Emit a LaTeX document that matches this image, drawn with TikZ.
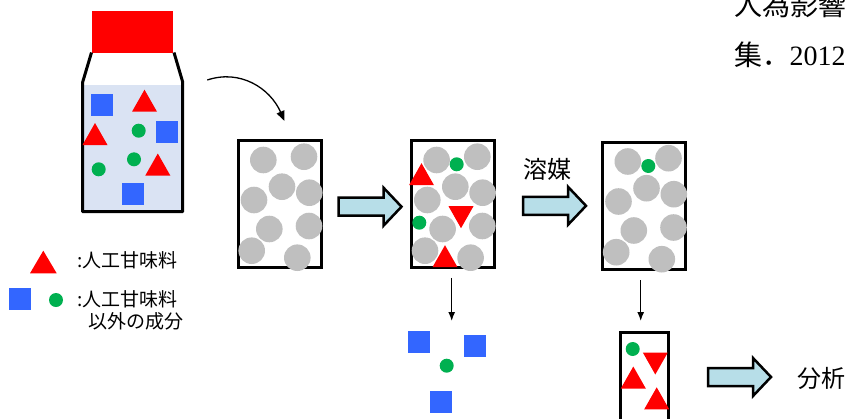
\documentclass[tikz,border=0pt]{standalone}
\usepackage{fontspec}
\newfontfamily\jpfont{Noto Sans CJK JP}
\newfontfamily\numfont{Liberation Serif}
\usetikzlibrary{arrows.meta,calc}
\definecolor{trired}{HTML}{FF0000}
\definecolor{sqblue}{HTML}{3366FF}
\definecolor{dotgreen}{HTML}{00B050}
\definecolor{grain}{HTML}{BFBFBF}
\definecolor{liquid}{HTML}{DAE3F3}
\definecolor{arrowfill}{HTML}{B7DEE8}
\tikzset{
  column/.style={draw, line width=3pt, minimum width=83pt, minimum height=127.3pt, inner sep=0pt, outer sep=0pt},
  thinarrow/.style={line width=1.3pt, -{Latex[length=9pt,width=7pt]}},
  label18/.style={font=\jpfont\fontsize{19}{21}\selectfont, inner sep=0pt, anchor=west},
  label23/.style={font=\jpfont\fontsize{24}{26}\selectfont, inner sep=0pt},
  cite28/.style={font=\jpfont\fontsize{28}{30}\selectfont, inner sep=0pt, anchor=base west},
  redup/.pic={\fill[trired] (0,-11) -- (12.5,11) -- (-12.5,11) -- cycle;},
  reddown/.pic={\fill[trired] (0,11) -- (12.5,-11) -- (-12.5,-11) -- cycle;},
  bluesq/.pic={\fill[sqblue] (-11,-11) rectangle (11,11);},
  greendot/.pic={\fill[dotgreen] (0,0) circle (7);},
  blockarr/.pic={\draw[fill=arrowfill, line width=2.5pt, line join=miter]
    (0,-9) -- (45,-9) -- (45,-19) -- (63,0) -- (45,19) -- (45,9) -- (0,9) -- cycle;},
}
\begin{document}
\begin{tikzpicture}[x=1pt,y=-1pt]
\clip (0,0) rectangle (848,418);

% bottle: cap, liquid and outline
\fill[trired] (91.7,11) rectangle (173.3,53);
\fill[liquid] (82.7,85) rectangle (182.7,211.7);
\draw[line width=3pt, line join=round] (91.5,52.5) -- (82.7,82) -- (82.7,211.7) -- (182.7,211.7) -- (182.7,82) -- (174,52.5);
\pic at (101.5,105) {bluesq};
\pic at (144.5,100.7) {redup};
\pic at (95,134) {redup};
\pic at (138.7,130.7) {greendot};
\pic at (167,131.7) {bluesq};
\pic at (134,159.3) {greendot};
\pic at (98.7,169.3) {greendot};
\pic at (157.8,164.5) {redup};
\pic at (133,193.8) {bluesq};

% curved arrow from the bottle to the first column
\coordinate (cs) at (207.3,80);
\coordinate (ce) at (284.5,121);
\draw[line width=1.3pt, -{Triangle[length=10pt,width=8pt]}] (cs) .. controls (240,69) and (270,88) .. (ce);

% columns
\node[column] (b1) at (279.7,204.2) {};
\node[column] (b2) at (453,204.2) {};
\node[column] (b3) at (644.2,205.7) {};
\foreach \b in {b1,b2,b3}
  \foreach \dx/\dy in {-16.4/-44.2, 24.3/-47.5, 2.3/-17.5, -25.7/-4.2, 29.6/-11.5, -10.4/24.8, 29.3/21.8, -28/46.5, 17.6/53.5}
    \fill[grain] ($(\b.center)+(\dx,\dy)$) circle (13.3);

% sample loaded onto the second column
\pic at (456.7,164.3) {greendot};
\pic at (421.5,174.2) {redup};
\pic at (419.3,222.7) {greendot};
\pic at (461,217.2) {reddown};
\pic at (445,256.2) {redup};

% remaining component on the third column
\pic at (648.3,166) {greendot};

% block arrows
\pic at (338.5,206.7) {blockarr};
\pic at (523,205.8) {blockarr};
\pic at (708,377) {blockarr};
\node[label23] (solv) at (547.5,169.3) {溶媒};
\node[label23, anchor=west] (anal) at (797,378.3) {分析};

% washed-out components
\coordinate (w1s) at ($(b2.south)+(-1.3,10)$);
\coordinate (w1e) at (451.7,321);
\draw[thinarrow] (w1s) -- (w1e);
\pic at (419.2,342.2) {bluesq};
\pic at (475,346.3) {bluesq};
\pic at (446.7,365.7) {greendot};
\pic at (441.3,402.2) {bluesq};

% eluate
\coordinate (w2s) at (640.7,280);
\coordinate (w2e) at (640.7,321);
\draw[thinarrow] (w2s) -- (w2e);
\node[draw, line width=3pt, minimum width=48pt, minimum height=120pt, inner sep=0pt, anchor=north] (b4) at (644.5,330.5) {};
\pic at (632.7,349) {greendot};
\pic at (655.3,363.5) {reddown};
\pic at (633.3,377.5) {redup};
\pic at (656.7,398.3) {redup};

% legend
\fill[trired] (43.3,250.7) -- (56.7,273.3) -- (30,273.3) -- cycle;
\node[label18] (l1) at (77,260.5) {:人工甘味料};
\pic at (19.5,298.8) {bluesq};
\pic at (56,300) {greendot};
\node[label18] (l2) at (77,298.8) {:人工甘味料};
\node[label18] (l3) at (88,321) {以外の成分};

% citation fragment
\node[cite28] (c1) at (734,15.5) {人為影響};
\node[cite28] (c2) at (734,65) {集．};
\node[cite28, font=\numfont\fontsize{28}{30}\selectfont] (c3) at (789.5,65) {2012};
\end{tikzpicture}
\end{document}
